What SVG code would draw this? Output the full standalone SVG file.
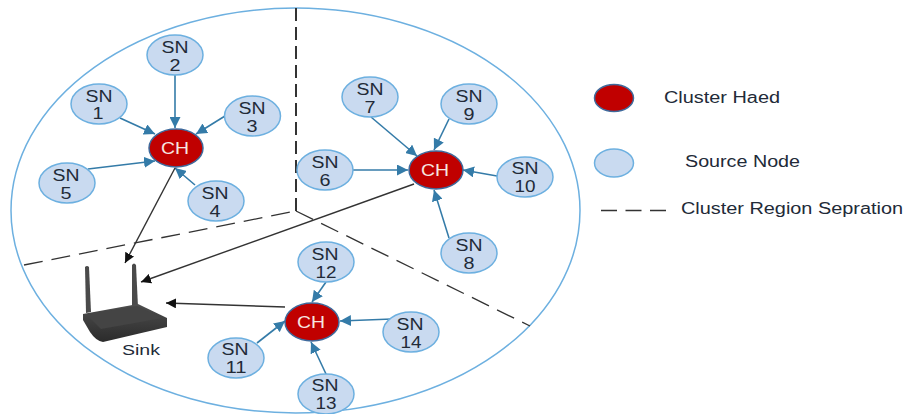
<svg xmlns="http://www.w3.org/2000/svg" width="904" height="414" viewBox="0 0 904 414">
<style>
text{font-family:"Liberation Sans",Arial,sans-serif;font-size:16px;fill:#222a38;text-anchor:middle}
.sn ellipse{fill:#c9daf0;stroke:#6db0e0;stroke-width:1.5}
.ch ellipse{fill:#c00000;stroke:#3f6a9c;stroke-width:1.5}
.ch text{fill:#f6e6e0}
.blue{stroke:#347ba8;stroke-width:1.6;fill:none;marker-end:url(#ab)}
.dark{stroke:#333;stroke-width:1.4;fill:none;marker-end:url(#ak)}
.dash{stroke:#333;stroke-width:1.3;fill:none;stroke-dasharray:19 9}
.leg{text-anchor:start}
</style>
<defs>
<marker id="ab" markerUnits="userSpaceOnUse" markerWidth="12" markerHeight="11" refX="11" refY="5.500" orient="auto"><path d="M0 0L11 5.500L0 11z" fill="#347ba8"/></marker>
<marker id="ak" markerUnits="userSpaceOnUse" markerWidth="11" markerHeight="10" refX="10" refY="5" orient="auto"><path d="M0 0L10 5L0 10z" fill="#111"/></marker>
<linearGradient id="rb" x1="0" y1="0" x2="0" y2="1"><stop offset="0" stop-color="#4e4e4e"/><stop offset="1" stop-color="#2b2b2b"/></linearGradient>
</defs>
<ellipse id="boundary" cx="295.500" cy="210.500" rx="284.500" ry="202.500" fill="none" stroke="#6db0e0" stroke-width="1.5"/>
<g id="regions">
<path class="dash" d="M296 8V211" style="stroke-width:2;stroke-dasharray:13 6"/>
<path class="dash" d="M24 265L296 211"/>
<path class="dash" d="M296 211L530 326"/>
</g>
<g id="connectors">
<path class="blue" d="M120 118L155 134"/>
<path class="blue" d="M175 75V128"/>
<path class="blue" d="M225 116L196 134"/>
<path class="blue" d="M88 169L155 161"/>
<path class="blue" d="M195 185L175 168"/>
<path class="blue" d="M371 117L417 156"/>
<path class="blue" d="M449 119L434 150"/>
<path class="blue" d="M353 170H408"/>
<path class="blue" d="M497 176L463 170"/>
<path class="blue" d="M449 238L434 190"/>
<path class="blue" d="M326 282L312 302"/>
<path class="blue" d="M392 319L340 321"/>
<path class="blue" d="M257 343L285 321"/>
<path class="blue" d="M326 374L311 342"/>
<path class="dark" d="M175 168L125 263"/>
<path class="dark" d="M414 184L141 282"/>
<path class="dark" d="M285 307L166 303"/>
</g>
<g id="sink">
<path d="M85 267Q87 265 89 267L91 312L86 313z" fill="#4a4a4a"/>
<path d="M132 265Q134 262 136 265L138 307L132 308z" fill="#4a4a4a"/>
<path d="M83 314L138 304L167 318L167 327L103 342Q96 341 90 332L83 320z" fill="url(#rb)"/>
<path d="M86 314L137 306L163 318L101 329z" fill="#444"/>
<text x="141" y="355" style="font-size:15px" textLength="38" lengthAdjust="spacingAndGlyphs">Sink</text>
</g>
<g id="ch1" class="ch"><ellipse cx="176" cy="148" rx="27" ry="19"/><text x="175" y="154" textLength="28" lengthAdjust="spacingAndGlyphs">CH</text></g>
<g id="ch2" class="ch"><ellipse cx="436" cy="170" rx="27" ry="19"/><text x="435" y="176" textLength="28" lengthAdjust="spacingAndGlyphs">CH</text></g>
<g id="ch3" class="ch"><ellipse cx="312" cy="322" rx="27" ry="19"/><text x="311" y="328" textLength="28" lengthAdjust="spacingAndGlyphs">CH</text></g>
<g id="sn1" class="sn"><ellipse cx="99" cy="104" rx="28" ry="20"/><text x="99" y="102" textLength="27" lengthAdjust="spacingAndGlyphs">SN</text><text x="98" y="119" textLength="11" lengthAdjust="spacingAndGlyphs">1</text></g>
<g id="sn2" class="sn"><ellipse cx="175" cy="55" rx="28" ry="20"/><text x="175" y="53" textLength="27" lengthAdjust="spacingAndGlyphs">SN</text><text x="175" y="71" textLength="11" lengthAdjust="spacingAndGlyphs">2</text></g>
<g id="sn3" class="sn"><ellipse cx="252.500" cy="116" rx="28" ry="20"/><text x="252" y="114" textLength="27" lengthAdjust="spacingAndGlyphs">SN</text><text x="252" y="132" textLength="11" lengthAdjust="spacingAndGlyphs">3</text></g>
<g id="sn4" class="sn"><ellipse cx="216" cy="201" rx="28" ry="20"/><text x="215" y="199" textLength="27" lengthAdjust="spacingAndGlyphs">SN</text><text x="215" y="217" textLength="11" lengthAdjust="spacingAndGlyphs">4</text></g>
<g id="sn5" class="sn"><ellipse cx="67" cy="183" rx="28" ry="20"/><text x="66" y="181" textLength="27" lengthAdjust="spacingAndGlyphs">SN</text><text x="66" y="199" textLength="11" lengthAdjust="spacingAndGlyphs">5</text></g>
<g id="sn6" class="sn"><ellipse cx="325" cy="170" rx="28" ry="20"/><text x="325" y="168" textLength="27" lengthAdjust="spacingAndGlyphs">SN</text><text x="325" y="186" textLength="11" lengthAdjust="spacingAndGlyphs">6</text></g>
<g id="sn7" class="sn"><ellipse cx="370" cy="97" rx="28" ry="20"/><text x="370" y="95" textLength="27" lengthAdjust="spacingAndGlyphs">SN</text><text x="370" y="113" textLength="11" lengthAdjust="spacingAndGlyphs">7</text></g>
<g id="sn8" class="sn"><ellipse cx="469" cy="253" rx="28" ry="20"/><text x="469" y="251" textLength="27" lengthAdjust="spacingAndGlyphs">SN</text><text x="469" y="269" textLength="11" lengthAdjust="spacingAndGlyphs">8</text></g>
<g id="sn9" class="sn"><ellipse cx="469" cy="104" rx="28" ry="20"/><text x="469" y="102" textLength="27" lengthAdjust="spacingAndGlyphs">SN</text><text x="469" y="120" textLength="11" lengthAdjust="spacingAndGlyphs">9</text></g>
<g id="sn10" class="sn"><ellipse cx="525" cy="177" rx="28" ry="20"/><text x="525" y="174" textLength="27" lengthAdjust="spacingAndGlyphs">SN</text><text x="525" y="192" textLength="21" lengthAdjust="spacingAndGlyphs">10</text></g>
<g id="sn11" class="sn"><ellipse cx="236" cy="358" rx="28" ry="20"/><text x="235" y="355" textLength="27" lengthAdjust="spacingAndGlyphs">SN</text><text x="236" y="373" textLength="21" lengthAdjust="spacingAndGlyphs">11</text></g>
<g id="sn12" class="sn"><ellipse cx="326" cy="262" rx="28" ry="20"/><text x="325" y="260" textLength="27" lengthAdjust="spacingAndGlyphs">SN</text><text x="326" y="278" textLength="21" lengthAdjust="spacingAndGlyphs">12</text></g>
<g id="sn13" class="sn"><ellipse cx="326" cy="394" rx="28" ry="20"/><text x="325" y="391" textLength="27" lengthAdjust="spacingAndGlyphs">SN</text><text x="326" y="409" textLength="21" lengthAdjust="spacingAndGlyphs">13</text></g>
<g id="sn14" class="sn"><ellipse cx="411" cy="332" rx="28" ry="20"/><text x="410" y="330" textLength="27" lengthAdjust="spacingAndGlyphs">SN</text><text x="411" y="348" textLength="21" lengthAdjust="spacingAndGlyphs">14</text></g>
<g id="legend">
<g id="leg-ch" class="ch"><ellipse cx="614" cy="98" rx="19.500" ry="13.500"/></g>
<text class="leg" x="664" y="103" textLength="116" lengthAdjust="spacingAndGlyphs">Cluster Haed</text>
<g id="leg-sn" class="sn"><ellipse cx="614" cy="163" rx="19.500" ry="14"/></g>
<text class="leg" x="685" y="167" textLength="115" lengthAdjust="spacingAndGlyphs">Source Node</text>
<path class="dash" d="M601 210.500H668" style="stroke-dasharray:16 8.500"/>
<text class="leg" x="681" y="214" textLength="222" lengthAdjust="spacingAndGlyphs">Cluster Region Sepration</text>
</g>
</svg>
